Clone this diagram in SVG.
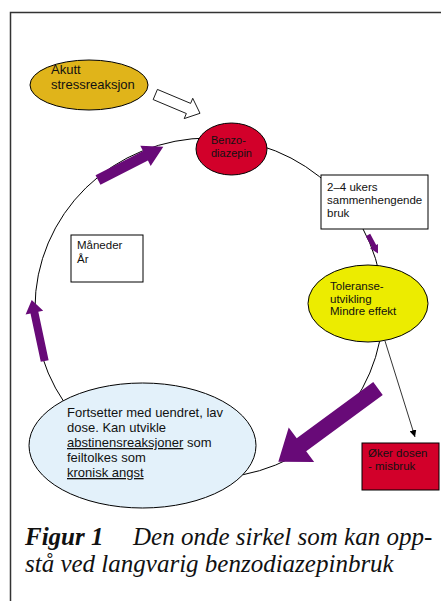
<svg xmlns="http://www.w3.org/2000/svg" width="441" height="601" viewBox="0 0 441 601">
<defs>
<style>
.t{font-family:"Liberation Sans",Arial,sans-serif;fill:#111}
.s13{font-size:13px}
.s11{font-size:11.5px}
.n{stroke:#000;stroke-width:1}
.pa{fill:#680a78;stroke:none}
.cap{font-family:"Liberation Serif","Times New Roman",serif;font-size:25px;font-style:italic;fill:#111}
</style>
<marker id="ah" viewBox="0 0 10 10" refX="10" refY="5" markerWidth="7" markerHeight="7" markerUnits="userSpaceOnUse" orient="auto">
<path d="M0,0 L10,5 L0,10 z" fill="#000"/>
</marker>
</defs>
<rect width="441" height="601" fill="#fff"/>
<rect x="10.5" y="12.5" width="440" height="600" fill="none" stroke="#333" stroke-width="1.5"/>

<g id="connectors">
<ellipse cx="209" cy="308" rx="174" ry="170" fill="none" stroke="#000" stroke-width="1"/>
<line x1="385" y1="341" x2="415" y2="437" stroke="#000" stroke-width="0.8" marker-end="url(#ah)"/>
</g>

<g id="akutt">
<ellipse class="n" cx="89" cy="85" rx="59" ry="25" fill="#e0b41a"/>
<text class="t s13" x="51" y="74">Akutt</text>
<text class="t s13" x="51" y="89">stressreaksjon</text>
</g>

<g id="benzo">
<ellipse class="n" cx="231.5" cy="149" rx="35.5" ry="26" fill="#d2002a"/>
<text class="t" font-size="11px" x="211" y="144">Benzo-</text>
<text class="t" font-size="11px" x="211" y="157">diazepin</text>
</g>

<g id="ukers">
<rect class="n" x="321" y="175" width="107" height="54" fill="#fff"/>
<text class="t s11" x="327" y="190.5">2–4 ukers</text>
<text class="t s11" x="327" y="203.5">sammenhengende</text>
<text class="t s11" x="327" y="216.5">bruk</text>
</g>

<g id="maneder">
<rect class="n" x="71" y="235" width="72" height="47" fill="#fff"/>
<text class="t s11" x="77" y="249">Måneder</text>
<text class="t s11" x="77" y="263">År</text>
</g>

<g id="toleranse">
<ellipse class="n" cx="368" cy="303.5" rx="60" ry="38.5" fill="#ecec00"/>
<text class="t s11" x="330" y="290">Toleranse-</text>
<text class="t s11" x="330" y="302.5">utvikling</text>
<text class="t s11" x="330" y="315">Mindre effekt</text>
</g>

<g id="fortsetter">
<ellipse class="n" cx="142.5" cy="445.5" rx="113.5" ry="62.5" fill="#e3f1fa"/>
<text class="t s13" x="67" y="417">Fortsetter med uendret, lav</text>
<text class="t s13" x="67" y="432">dose. Kan utvikle</text>
<text class="t s13" x="67" y="447"><tspan text-decoration="underline">abstinensreaksjoner</tspan> som</text>
<text class="t s13" x="67" y="462">feiltolkes som</text>
<text class="t s13" x="67" y="477" text-decoration="underline">kronisk angst</text>
</g>

<g id="oker">
<rect class="n" x="362" y="443" width="77" height="47" fill="#d2002a"/>
<text class="t s11" x="368" y="457">Øker dosen</text>
<text class="t s11" x="368" y="470">- misbruk</text>
</g>

<g id="arrows">
<polygon transform="translate(155.3,94.5) rotate(22.8)" points="0,-5.5 36,-5.5 36,-11 48.5,0 36,11 36,5.5 0,5.5" fill="#fff" stroke="#000" stroke-width="0.8"/>
<polygon class="pa" transform="translate(98,180) rotate(-27)" points="0,-5.4 53.3,-5.4 53.3,-11.4 73.3,0 53.3,11.4 53.3,5.4 0,5.4"/>
<polygon class="pa" transform="translate(44.7,361) rotate(-102)" points="0,-4 49.5,-4 49.5,-9 62.4,0 49.5,9 49.5,4 0,4"/>
<polygon class="pa" transform="translate(368,235) rotate(61.6)" points="0,-2.5 12.6,-2.5 12.6,-4.5 21,0 12.6,4.5 12.6,2.5 0,2.5"/>
<polygon class="pa" transform="translate(378,388.5) rotate(143.7)" points="0,-8 95,-8 95,-21.5 123.7,0 95,21.5 95,8 0,8"/>
</g>

<g id="caption">
<text class="cap" x="25" y="545"><tspan font-weight="bold">Figur 1</tspan></text>
<text class="cap" x="133" y="545">Den onde sirkel som kan opp-</text>
<text class="cap" x="25" y="572">stå ved langvarig benzodiazepinbruk</text>
</g>
</svg>
